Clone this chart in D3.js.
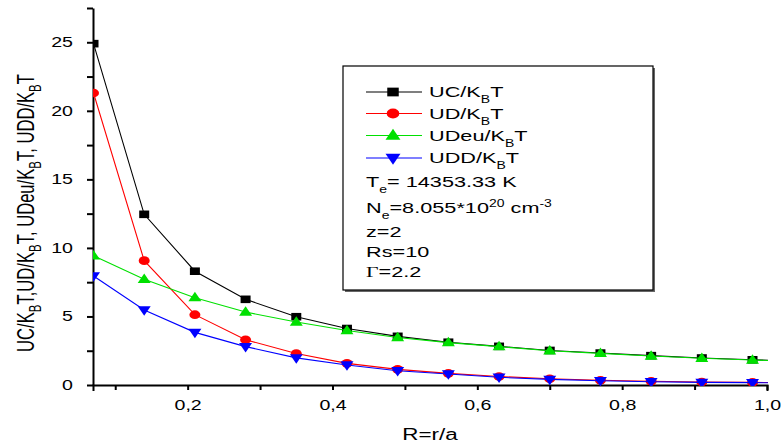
<!doctype html>
<html>
<head>
<script src="https://d3js.org/d3.v7.min.js"></script>
<style>
  body { margin: 0; background: #fff; }
  text { font-family: "Liberation Sans", Arial, sans-serif; fill: #000; }
  .axis path, .axis line { stroke: #000; stroke-width: 2; }
  .axis text { font-size: 14px; }
</style>
</head>
<body>
<svg id="chart" width="782" height="447"></svg>
<script>
// r/a values (last one lies just past the axis end, only its line segment shows)
var rValues = [0.07, 0.14, 0.21, 0.28, 0.35, 0.42, 0.49, 0.56, 0.63, 0.70, 0.77, 0.84, 0.91, 0.98, 1.05];
var ucValues   = [24.9, 12.45, 8.3, 6.25, 4.98, 4.12, 3.55, 3.12, 2.82, 2.52, 2.33, 2.14, 1.97, 1.84, 1.74];
var udValues   = [21.3, 9.07, 5.13, 3.3, 2.3, 1.58, 1.14, 0.85, 0.62, 0.46, 0.35, 0.27, 0.22, 0.19, 0.16];
var udeuValues = [9.43, 7.71, 6.37, 5.32, 4.6, 3.98, 3.47, 3.09, 2.8, 2.5, 2.31, 2.12, 1.95, 1.82, 1.72];
var uddValues  = [7.95, 5.47, 3.84, 2.8, 1.98, 1.46, 1.04, 0.8, 0.56, 0.41, 0.31, 0.24, 0.19, 0.17, 0.15];

var xMajor = [0.2, 0.4, 0.6, 0.8, 1.0];
var xMinor = [0.1, 0.3, 0.5, 0.7, 0.9];
var yMajor = [0, 5, 10, 15, 20, 25];
var yMinor = [2.5, 7.5, 12.5, 17.5, 22.5, 27.5];

var series = [
  { name: 'UC', values: ucValues, color: '#000000', symbol: 'square' },
  { name: 'UD', values: udValues, color: '#ff0000', symbol: 'circle' },
  { name: 'UDeu', values: udeuValues, color: '#00e000', symbol: 'up' },
  { name: 'UDD', values: uddValues, color: '#0000ff', symbol: 'down' }
];

var SX = 1.4; // the original picture is stretched sideways

var svg = d3.select('#chart');

var x = d3.scaleLinear().domain([0.0693, 1.0]).range([93, 767]);
var y = d3.scaleLinear().domain([0, 27.5]).range([385, 8]);

function fmt(d) { return d3.format('.1f')(d).replace('.', ','); }

svg.append('clipPath').attr('id', 'plotclip')
  .append('rect').attr('x', 93).attr('y', 0).attr('width', 675).attr('height', 386);

// x axis
var xa = svg.append('g').attr('class', 'axis')
  .attr('transform', 'translate(0,385)')
  .call(d3.axisBottom(x).tickValues(xMajor).tickFormat(fmt).tickSize(5).tickSizeOuter(6).tickPadding(10));
xa.selectAll('text').attr('transform', 'scale(' + SX + ',1)');
svg.append('g').attr('class', 'axis')
  .attr('transform', 'translate(0,385)')
  .call(d3.axisBottom(x).tickValues(xMinor).tickFormat('').tickSize(5).tickSizeOuter(0))
  .select('path').remove();

// y axis
var ya = svg.append('g').attr('class', 'axis')
  .attr('transform', 'translate(93,0)')
  .call(d3.axisLeft(y).tickValues(yMajor).tickSize(6).tickSizeOuter(0).tickPadding(8.3));
ya.selectAll('text').attr('transform', 'scale(' + SX + ',1)');
svg.append('g').attr('class', 'axis')
  .attr('transform', 'translate(93,0)')
  .call(d3.axisLeft(y).tickValues(yMinor).tickFormat('').tickSize(6).tickSizeOuter(0))
  .select('path').remove();

var line = d3.line().x(function (d, i) { return x(rValues[i]); }).y(function (d) { return y(d); });

function marker(s) {
  if (s === 'square') return 'M-5,-3.8H5V3.8H-5Z';
  if (s === 'circle') return 'M-5.5,0A5.5,4.3 0 1,0 5.5,0A5.5,4.3 0 1,0 -5.5,0Z';
  if (s === 'up') return 'M0,-5.8L6.5,3.7H-6.5Z';
  return 'M0,5.8L6.5,-3.7H-6.5Z';
}

var plot = svg.append('g').attr('clip-path', 'url(#plotclip)');
series.forEach(function (s) {
  var g = plot.append('g');
  g.append('path').attr('d', line(s.values)).attr('fill', 'none')
    .attr('stroke', s.color).attr('stroke-width', 1.1);
  g.selectAll('path.pt').data(s.values).enter().append('path').attr('class', 'pt')
    .attr('d', marker(s.symbol))
    .attr('transform', function (d, i) { return 'translate(' + x(rValues[i]) + ',' + y(d) + ')'; })
    .attr('fill', s.color);
});

// legend box
var box = svg.append('g');
box.append('rect').attr('x', 345).attr('y', 68).attr('width', 310).attr('height', 224).attr('fill', '#666');
box.append('rect').attr('x', 343).attr('y', 66).attr('width', 310).attr('height', 224)
  .attr('fill', '#fff').attr('stroke', '#000').attr('stroke-width', 1.2);

function stext(px, py, size) {
  return box.append('text').attr('font-size', size)
    .attr('transform', 'translate(' + px + ',' + py + ') scale(' + SX + ',1)');
}

var legY = [92, 113.5, 135.5, 158];
series.forEach(function (s, i) {
  box.append('line').attr('x1', 366).attr('x2', 422).attr('y1', legY[i]).attr('y2', legY[i])
    .attr('stroke', s.color).attr('stroke-width', 1.1);
  box.append('path').attr('d', marker(s.symbol)).attr('fill', s.color)
    .attr('transform', 'translate(393,' + legY[i] + ') scale(1.15)');
  var t = stext(429, legY[i] + 5, 15.5);
  t.append('tspan').text(s.name + '/K');
  t.append('tspan').text('B').attr('font-size', 10).attr('dy', 6);
  t.append('tspan').text('T').attr('dy', -6);
});

var te = stext(366, 187, 15.5);
te.append('tspan').text('T');
te.append('tspan').text('e').attr('font-size', 10).attr('dy', 6);
te.append('tspan').text('= 14353.33 K').attr('dy', -6);

var ne = stext(366, 213, 15.5);
ne.append('tspan').text('N');
ne.append('tspan').text('e').attr('font-size', 10).attr('dy', 6);
ne.append('tspan').text('=8.055*10').attr('dy', -6);
ne.append('tspan').text('20').attr('font-size', 10).attr('dy', -6);
ne.append('tspan').text(' cm').attr('dy', 6);
ne.append('tspan').text('-3').attr('font-size', 10).attr('dy', -6);

stext(366, 237, 15.5).text('z=2');
stext(366, 257, 15.5).text('Rs=10');
var gm = stext(366, 277, 15.5);
gm.append('tspan').style('font-family', '"Liberation Serif", serif').text('Γ');
gm.append('tspan').text('=2.2');

// axis titles
svg.append('text').attr('transform', 'translate(430,440) scale(' + SX + ',1)')
  .attr('text-anchor', 'middle').attr('font-size', 16).text('R=r/a');

var yl = svg.append('text').attr('transform', 'translate(33.5,213) scale(' + SX + ',1) rotate(-90)')
  .attr('text-anchor', 'middle').attr('font-size', 16.6);
var parts = ['UC/K', 'T,UD/K', 'T, UDeu/K', 'T, UDD/K', 'T'];
parts.forEach(function (p, i) {
  yl.append('tspan').text(p).attr('dy', i === 0 ? 0 : -5);
  if (i < parts.length - 1) yl.append('tspan').text('B').attr('font-size', 11.5).attr('dy', 5);
});
</script>
</body>
</html>
